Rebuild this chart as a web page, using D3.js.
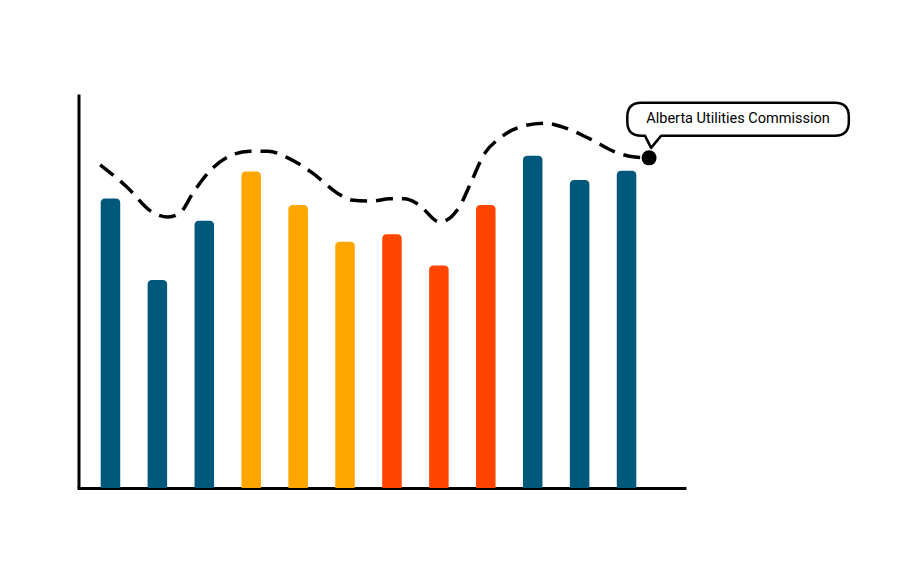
<!DOCTYPE html>
<html>
<head>
<meta charset="utf-8">
<script src="https://cdn.jsdelivr.net/npm/d3@7"></script>
<style>
  html, body { margin: 0; padding: 0; background: #fff; }
  svg { display: block; font-family: Roboto, "Noto Sans", sans-serif; }
</style>
</head>
<body>
<svg id="chart" width="901" height="566"></svg>
<script>
// ---- data ----
const categories = ["1","2","3","4","5","6","7","8","9","10","11","12"];
const barValues  = [73.5, 52.8, 67.8, 80.3, 71.8, 62.5, 64.4, 56.5, 71.8, 84.3, 78.2, 80.5];
const barGroups  = ["g1","g1","g1","g2","g2","g2","g3","g3","g3","g1","g1","g1"];

// dashed trend line: position (in category-index units) and value
const linePos    = [-0.22, 0.35, 0.88, 1.23, 1.48, 1.76, 2.12, 2.55, 2.97, 3.36, 3.78, 4.31, 4.83, 5.14, 5.57,
                    5.95, 6.27, 6.55, 7.02, 7.45, 7.66, 7.98, 8.30, 8.72, 9.26, 9.69, 10.22, 10.82, 11.18, 11.48];
const lineValues = [82.0, 76.4, 70.1, 68.8, 69.8, 74.9, 80.5, 84.3, 85.5, 85.5, 83.8, 79.9, 74.9, 73.1, 72.8,
                    73.4, 73.4, 72.1, 67.5, 71.6, 76.9, 85.0, 88.8, 91.6, 92.6, 91.4, 88.6, 85.0, 84.0, 83.8];
const calloutLabel = "Alberta Utilities Commission";

const groupColors = ["#00587a", "#ffa600", "#ff4500"];

// ---- scales ----
const svg = d3.select("#chart");
const y = d3.scaleLinear().domain([0, 100]).range([488, 94]);
const xBand = d3.scaleBand().domain(categories).range([87, 650]).paddingInner(0.584).paddingOuter(0.292);
const xPos = d3.scaleLinear().domain([-0.5, 11.5]).range([87, 650]);
const xAxisScale = d3.scaleLinear().domain([0, 1]).range([77, 686]);
const color = d3.scaleOrdinal().domain(["g1","g2","g3"]).range(groupColors);

// ---- axes ----
svg.append("g").attr("transform", "translate(78.5,0)")
  .call(d3.axisLeft(y).tickValues([]).tickSizeOuter(0));
svg.append("g").attr("transform", "translate(0,488)")
  .call(d3.axisBottom(xAxisScale).tickValues([]).tickSizeOuter(0));
svg.selectAll(".domain").attr("stroke", "#000").attr("stroke-width", 3);

// ---- bars (rounded top corners) ----
const r = 4.5;
function barPath(x0, w, yTop, yBot) {
  return `M${x0},${yBot} L${x0},${yTop + r} Q${x0},${yTop} ${x0 + r},${yTop} L${x0 + w - r},${yTop} Q${x0 + w},${yTop} ${x0 + w},${yTop + r} L${x0 + w},${yBot} Z`;
}
svg.append("g").selectAll("path")
  .data(categories.map((c, i) => ({ c, v: barValues[i], g: barGroups[i] })))
  .join("path")
  .attr("d", d => barPath(xBand(d.c), xBand.bandwidth(), y(d.v), y(0)))
  .attr("fill", d => color(d.g));

// ---- dashed line ----
const pts = linePos.map((p, i) => [xPos(p), y(lineValues[i])]);
svg.append("path")
  .attr("d", d3.line().curve(d3.curveMonotoneX)(pts))
  .attr("fill", "none")
  .attr("stroke", "#000")
  .attr("stroke-width", 3.5)
  .attr("stroke-dasharray", "17,9");

// ---- end dot + callout ----
const end = pts[pts.length - 1];
svg.append("circle").attr("cx", end[0]).attr("cy", end[1]).attr("r", 7.5).attr("fill", "#000");

const g = svg.append("g");
const text = g.append("text")
  .attr("x", end[0] + 89).attr("y", end[1] - 34.5)
  .attr("text-anchor", "middle")
  .attr("font-size", 14.5)
  .attr("fill", "#000")
  .text(calloutLabel);
const bb = text.node().getBBox();
const bx0 = bb.x - 19, bx1 = bb.x + bb.width + 19;
const by0 = end[1] - 55, by1 = end[1] - 22;
const rr = 14;
const tipX = end[0] + 2, tipY = end[1] - 10;
const t0 = end[0] - 4, t1 = end[0] + 12;
const callPath = `M${bx0 + rr},${by0} L${bx1 - rr},${by0} Q${bx1},${by0} ${bx1},${by0 + rr} L${bx1},${by1 - rr} Q${bx1},${by1} ${bx1 - rr},${by1}
  L${t1},${by1} L${tipX},${tipY} L${t0},${by1} L${bx0 + rr},${by1} Q${bx0},${by1} ${bx0},${by1 - rr} L${bx0},${by0 + rr} Q${bx0},${by0} ${bx0 + rr},${by0} Z`;
g.insert("path", "text")
  .attr("d", callPath)
  .attr("fill", "#fff")
  .attr("stroke", "#000")
  .attr("stroke-width", 2.5)
  .attr("stroke-linejoin", "round");
</script>
</body>
</html>
